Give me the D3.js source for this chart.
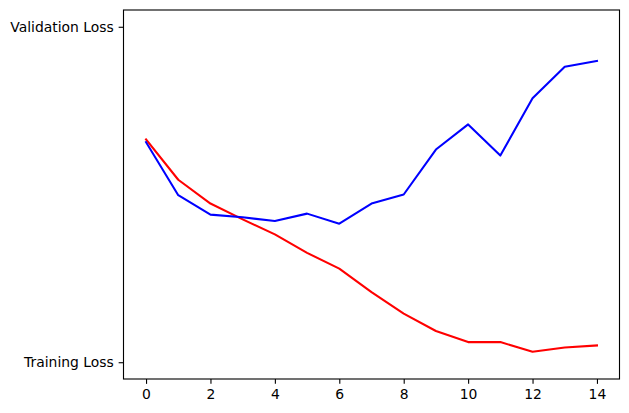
<!DOCTYPE html>
<html><head><meta charset="utf-8">
<script src="https://cdn.jsdelivr.net/npm/d3@7"></script>
<style>body{margin:0;background:#fff}svg{display:block}</style>
</head><body>
<svg id="c" width="629" height="413"></svg>
<script>
const epochs = [0,1,2,3,4,5,6,7,8,9,10,11,12,13,14];
const trainingLoss = [0.664,0.544,0.473,0.426,0.381,0.326,0.279,0.209,0.145,0.093,0.060,0.060,0.031,0.044,0.050];
const validationLoss = [0.656,0.498,0.440,0.432,0.421,0.443,0.413,0.473,0.500,0.634,0.709,0.616,0.787,0.881,0.898];
const yTickValues = [0, 1];
const yTickLabels = ["Training Loss", "Validation Loss"];
const xTickValues = [0,2,4,6,8,10,12,14];

const svg = d3.select("#c");
const L = 123.5, R = 619.5, T = 10, B = 379;
const x = d3.scaleLinear().domain([-0.7, 14.7]).range([L, R]);
const y = d3.scaleLinear().domain([-0.05, 1.05]).range([B, T]);
const font = "'DejaVu Sans', sans-serif";
const fs = 13.9;

const line = d3.line().x((d,i)=>x(epochs[i])).y(d=>y(d));
svg.append("path").datum(trainingLoss).attr("d", line)
  .attr("fill","none").attr("stroke","#ff0000").attr("stroke-width",2.08).attr("stroke-linejoin","round").attr("stroke-linecap","square");
svg.append("path").datum(validationLoss).attr("d", line)
  .attr("fill","none").attr("stroke","#0000ff").attr("stroke-width",2.08).attr("stroke-linejoin","round").attr("stroke-linecap","square");

const xAxis = d3.axisBottom(x).tickValues(xTickValues).tickSize(4.86).tickPadding(4.86).tickFormat(d3.format("d"));
const gx = svg.append("g").attr("transform", `translate(0,${B})`).call(xAxis);
const yAxis = d3.axisLeft(y).tickValues(yTickValues).tickSize(4.86).tickPadding(4.86).tickFormat((d,i)=>yTickLabels[i]);
const gy = svg.append("g").attr("transform", `translate(${L},0)`).call(yAxis);
[gx, gy].forEach(g => {
  g.select(".domain").remove();
  g.selectAll(".tick line").attr("stroke","#000").attr("stroke-width",1.11);
  g.selectAll(".tick text").attr("fill","#000").style("font-family",font).style("font-size",fs+"px");
});
gx.selectAll(".tick text").attr("dy","0.71em");

svg.append("rect").attr("x",L).attr("y",T).attr("width",R-L).attr("height",B-T)
  .attr("fill","none").attr("stroke","#000").attr("stroke-width",1.11);
</script>
</body></html>
